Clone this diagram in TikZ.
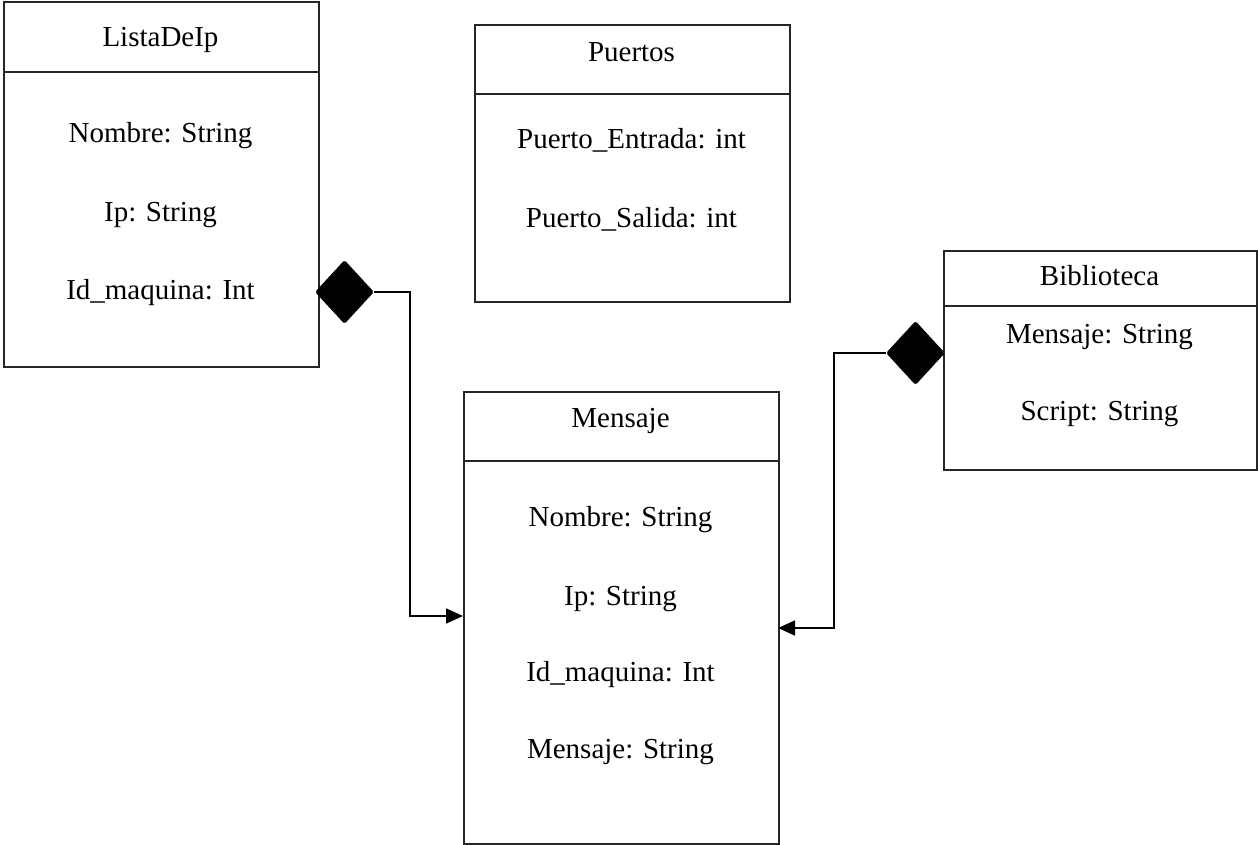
\documentclass[tikz,border=0pt]{standalone}
\usepackage{fontspec}
\setmainfont{Liberation Serif}
\usetikzlibrary{shapes.geometric,arrows.meta}
\begin{document}
\begin{tikzpicture}[x=1pt,y=-1pt,
  box/.style={draw=black!85, line width=1.6pt, rectangle, inner sep=0pt, anchor=north west},
  sep/.style={draw=black!85, line width=1.6pt},
  txt/.style={font=\fontsize{29}{34}\selectfont, anchor=base, inner sep=0pt},
  comp/.style={diamond, fill=black, draw=black, line width=0.8pt, inner sep=0pt, aspect=0.92, minimum width=58pt, minimum height=63pt, rounded corners=1.5pt},
  conn/.style={draw=black, line width=1.6pt, -{Triangle[length=17pt,width=15pt]}}
]
\useasboundingbox (0,0) rectangle (1258,845);

% ListaDeIp
\node[box, minimum width=315pt, minimum height=365pt] (lista) at (3,1) {};
\draw[sep] (3,72) -- (318,72);
\node[txt] (listaT) at (160.5,47) {ListaDeIp};
\node[txt] (lista1) at (160.5,143) {Nombre: String};
\node[txt] (lista2) at (160.5,222) {Ip: String};
\node[txt] (lista3) at (160.5,299) {Id\_maquina: Int};

% Puertos
\node[box, minimum width=315pt, minimum height=277pt] (puertos) at (474,24) {};
\draw[sep] (474,94) -- (789,94);
\node[txt] (puertosT) at (631.5,62) {Puertos};
\node[txt] (puertos1) at (631.5,149) {Puerto\_Entrada: int};
\node[txt] (puertos2) at (631.5,227) {Puerto\_Salida: int};

% Biblioteca
\node[box, minimum width=313pt, minimum height=219pt] (biblio) at (943,250) {};
\draw[sep] (943,306) -- (1256,306);
\node[txt] (biblioT) at (1099.5,285) {Biblioteca};
\node[txt] (biblio1) at (1099.5,343) {Mensaje: String};
\node[txt] (biblio2) at (1099.5,420) {Script: String};

% Mensaje
\node[box, minimum width=315pt, minimum height=452pt] (mensaje) at (463,391) {};
\draw[sep] (463,461) -- (778,461);
\node[txt] (mensajeT) at (620.5,427) {Mensaje};
\node[txt] (mensaje1) at (620.5,526) {Nombre: String};
\node[txt] (mensaje2) at (620.5,605) {Ip: String};
\node[txt] (mensaje3) at (620.5,681) {Id\_maquina: Int};
\node[txt] (mensaje4) at (620.5,758) {Mensaje: String};

% composition diamonds
\node[comp] (d1) at (344.5,292) {};
\node[comp] (d2) at (915.5,353) {};

% connectors
\coordinate (m1) at (463,616);
\coordinate (m2) at (778,628);
\draw[conn] (d1.east) -- (410,292) |- (m1);
\draw[conn] (d2.west) -- (834,353) |- (m2);
\end{tikzpicture}
\end{document}
